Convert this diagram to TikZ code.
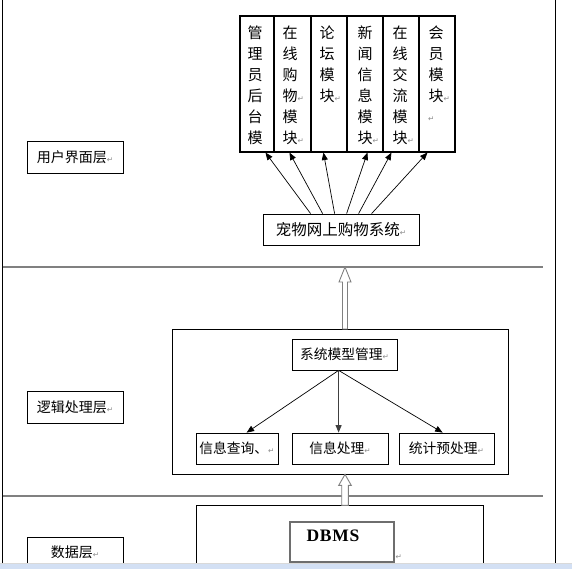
\documentclass[tikz,border=0pt]{standalone}
\usepackage{fontspec}
\newfontfamily\cjk{Noto Sans CJK SC}
\newfontfamily\djv{DejaVu Sans}
\newfontfamily\tms[LetterSpace=4]{Liberation Serif}
\usetikzlibrary{arrows.meta}
\definecolor{laygray}{HTML}{808080}
\definecolor{stripblue}{HTML}{D3E0F4}
\definecolor{markgray}{HTML}{8C8C8C}
\definecolor{dbgray}{HTML}{6E6E6E}
\newcommand{\retmark}{{\djv\fontsize{7.5}{7.5}\selectfont\textcolor{markgray}{↵}}}
\begin{document}
\begin{tikzpicture}[x=1pt,y=-1pt,
  bx/.style={draw, line width=0.8pt, inner sep=0pt, font=\cjk\fontsize{13.75}{14}\selectfont},
  mod/.style={draw, line width=1.1pt, inner sep=0pt, minimum height=136pt},
  modch/.style={inner sep=0pt, anchor=west, font=\cjk\fontsize{15}{15}\selectfont},
  arr/.style={-{Triangle[length=7.5pt,width=6pt]}, line width=0.7pt},
  hollow/.style={draw=laygray, line width=0.9pt, fill=white},
  layer/.style={draw=laygray, line width=1.6pt}]
\useasboundingbox (0,0) rectangle (572,569);
\fill[white] (0,0) rectangle (572,569);

% frame lines
\draw[line width=0.9pt] (2.5,0) -- (2.5,563);
\draw[line width=0.9pt] (555,0) -- (555,563);
\draw[layer] (2.5,267) -- (543,267);
\draw[layer] (2.5,496) -- (543,496);

% layer labels
\node[bx, font=\cjk\fontsize{14}{14}\selectfont, minimum width=96pt, minimum height=32pt] (L1) at (75,157) {用户界面层\retmark};
\node[bx, font=\cjk\fontsize{14}{14}\selectfont, minimum width=96pt, minimum height=32pt] (L2) at (75,407) {逻辑处理层\retmark};
\node[bx, minimum width=96pt, minimum height=38pt] (L3) at (75,556) {};
\node[inner sep=0pt, font=\cjk\fontsize{14}{14}\selectfont] (L3t) at (75,552) {数据层\retmark};

% module boxes
\node[mod, minimum width=34pt] (m1) at (257,84) {};
\node[mod, minimum width=37pt] (m2) at (292.5,84) {};
\node[mod, minimum width=36pt] (m3) at (329,84) {};
\node[mod, minimum width=36pt] (m4) at (365,84) {};
\node[mod, minimum width=36pt] (m5) at (401,84) {};
\node[mod, minimum width=36pt] (m6) at (437,84) {};

\foreach \ch [count=\i] in {管,理,员,后,台,模}
  \node[modch] (mA\i) at (247.5,{32.7+21*(\i-1)}) {\ch};
\foreach \ch [count=\i] in {在,线,购,物\retmark,模,块\retmark}
  \node[modch] (mB\i) at (282.5,{32.7+21*(\i-1)}) {\ch};
\foreach \ch [count=\i] in {论,坛,模,块\retmark}
  \node[modch] (mC\i) at (319.5,{32.7+21*(\i-1)}) {\ch};
\foreach \ch [count=\i] in {新,闻,信,息,模,块\retmark}
  \node[modch] (mD\i) at (357.5,{32.7+21*(\i-1)}) {\ch};
\foreach \ch [count=\i] in {在,线,交,流,模,块\retmark}
  \node[modch] (mE\i) at (392.5,{32.7+21*(\i-1)}) {\ch};
\foreach \ch [count=\i] in {会,员,模,块\retmark}
  \node[modch] (mF\i) at (428.5,{32.7+21*(\i-1)}) {\ch};
\node[inner sep=0pt, anchor=west] (mF5) at (428,118.7) {\retmark};

% system box
\node[bx, minimum width=156pt, minimum height=31pt, font=\cjk\fontsize{15.5}{16}\selectfont] (sys) at (341,229.5) {宠物网上购物系统\retmark};

\draw[arr] ([xshift=48pt]sys.north west) -- ([xshift=26pt]m1.south west);
\draw[arr] ([xshift=60pt]sys.north west) -- ([xshift=16pt]m2.south west);
\draw[arr] ([xshift=72pt]sys.north west) -- ([xshift=13pt]m3.south west);
\draw[arr] ([xshift=84pt]sys.north west) -- ([xshift=21pt]m4.south west);
\draw[arr] ([xshift=96pt]sys.north west) -- ([xshift=9pt]m5.south west);
\draw[arr] ([xshift=109pt]sys.north west) -- ([xshift=9pt]m6.south west);

% logic layer
\node[bx, minimum width=336pt, minimum height=145pt] (logic) at (340,401.5) {};
\node[bx, minimum width=105pt, minimum height=31pt] (mgmt) at (344.5,354.5) {系统模型管理\retmark};
\node[bx, minimum width=82pt, minimum height=31pt] (q) at (237,448.5) {信息查询、\retmark};
\node[bx, minimum width=96pt, minimum height=31pt] (p) at (340,448.5) {信息处理\retmark};
\node[bx, minimum width=95pt, minimum height=31pt] (s) at (446.5,448.5) {统计预处理\retmark};

\draw[arr] ([xshift=47pt]mgmt.south west) -- ([xshift=51pt]q.north west);
\draw[arr, draw=black!75, line width=1pt] ([xshift=47pt]mgmt.south west) -- ([xshift=47pt]p.north west);
\draw[arr] ([xshift=47pt]mgmt.south west) -- ([xshift=44pt]s.north west);

% data layer
\node[bx, minimum width=287pt, minimum height=70pt] (data) at (339.5,540) {};
\node[draw=dbgray, line width=1.5pt, inner sep=0pt, minimum width=104pt, minimum height=40pt] (dbms) at (342,542) {};
\node[inner sep=0pt, font=\tms\bfseries\fontsize{17.5}{17.5}\selectfont] (dbmst) at (333,536) {DBMS};
\node[inner sep=0pt, anchor=west] (dbr) at (395.5,557) {\retmark};

% hollow arrows
\coordinate (t1) at (345,267);
\draw[hollow] (t1) -- ++(6,15) -- ++(-3.5,0) -- ++(0,47) -- ++(-5,0) -- ++(0,-47) -- ++(-3.5,0) -- cycle;
\coordinate (t2) at ([xshift=5pt]logic.south);
\draw[hollow] (t2) -- ++(6.3,11) -- ++(-3,0) -- ++(0,20) -- ++(-6.6,0) -- ++(0,-20) -- ++(-3,0) -- cycle;

% bottom strip
\fill[stripblue] (0,563) rectangle (572,569);
\draw[line width=0.8pt, black!15] (0,563.4) -- (572,563.4);
\end{tikzpicture}
\end{document}
